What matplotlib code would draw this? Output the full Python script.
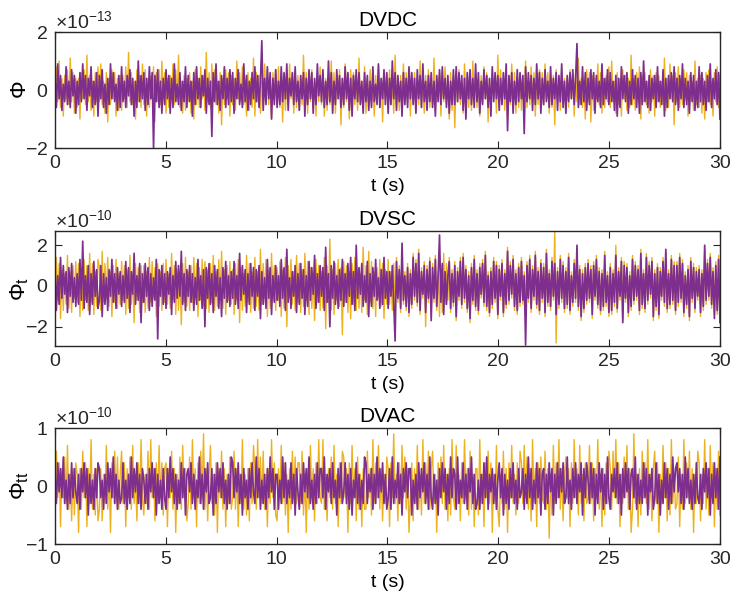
import matplotlib
matplotlib.use("Agg")
import matplotlib.pyplot as plt
import numpy as np
from matplotlib.ticker import ScalarFormatter

plt.rcParams['font.family'] = ['Liberation Sans', 'DejaVu Sans']
plt.rcParams['mathtext.fontset'] = 'custom'
plt.rcParams['mathtext.rm'] = 'Liberation Sans'
plt.rcParams['mathtext.it'] = 'Liberation Sans'
plt.rcParams['axes.unicode_minus'] = False

# sampled responses, 16 samples per second over 30 s
n_samples = 480
t_end = 30

# displacement (units of 1e-14)
dvdc_ref = """
-5 8 -4 10 -6 4 -9 5 -3 7 -5 11 -4 6 -8 4
-6 4 -10 6 -3 7 -5 12 -4 5 -7 3 -9 6 -4 8
-4 9 -5 3 -8 6 -11 4 -5 7 -3 6 -9 4 -7 5
-7 5 -3 8 -6 13 -4 6 -5 3 -10 7 -4 5 -6 9
-5 7 -9 4 -6 5 -3 8 -11 6 -4 7 -5 10 -3 6
-8 4 -6 5 -3 9 -5 7 -4 12 -6 3 -8 5 -7 4
-4 6 -8 3 -10 7 -5 4 -6 8 -3 5 -7 13 -4 6
-6 9 -4 7 -5 3 -8 6 -12 4 -5 7 -3 6 -9 5
-5 4 -7 10 -3 6 -4 8 -5 3 -9 6 -7 4 -6 11
-9 6 -4 5 -8 3 -6 9 -4 7 -5 4 -10 6 -3 7
-4 8 -6 3 -11 5 -7 4 -5 9 -3 6 -8 4 -6 5
-7 4 -5 12 -3 6 -8 5 -4 7 -6 3 -9 5 -4 8
-5 6 -9 4 -7 3 -5 10 -4 6 -8 5 -3 7 -12 4
-6 9 -4 5 -10 7 -3 6 -5 4 -7 11 -5 3 -6 8
-8 4 -6 7 -5 3 -9 5 -4 8 -6 4 -11 6 -3 5
-4 7 -5 3 -8 12 -6 4 -7 5 -3 9 -5 6 -4 7
-9 5 -3 6 -7 4 -5 10 -6 3 -8 5 -4 7 -6 4
-5 11 -7 4 -3 6 -9 5 -4 8 -5 3 -10 6 -7 5
-13 6 -4 7 -5 3 -8 9 -3 5 -6 4 -7 10 -4 6
-6 4 -9 5 -4 8 -3 6 -11 4 -5 7 -3 5 -8 12
-4 7 -5 3 -7 6 -10 4 -5 9 -3 6 -8 4 -6 5
-7 5 -4 10 -6 3 -5 8 -4 6 -9 4 -5 7 -3 6
-5 9 -3 6 -8 4 -6 5 -12 7 -4 3 -7 6 -5 4
-8 4 -6 7 -3 5 -9 6 -4 11 -5 4 -6 3 -10 7
-4 6 -11 5 -7 4 -3 9 -5 6 -8 4 -6 5 -4 8
-6 10 -4 3 -8 6 -5 4 -9 7 -3 5 -7 4 -6 12
-5 4 -7 6 -3 8 -10 5 -4 6 -5 3 -8 7 -4 5
-9 6 -4 5 -6 3 -5 11 -7 4 -6 9 -3 5 -12 6
-4 8 -6 4 -5 7 -3 6 -9 5 -4 3 -7 10 -5 4
-6 5 -8 4 -10 6 -4 7 -5 3 -9 6 -4 8 -6 5
"""
dvdc = """
4 -6 9 -3 5 -7 2 -4 8 -5 3 -6 7 -2 5 -8
3 -5 6 -4 9 -3 5 -7 4 -2 8 -6 3 -5 6 -9
5 -3 7 -6 2 -8 4 -5 9 -3 6 -4 2 -7 5 -6
8 -4 3 -6 5 -2 7 -5 4 -9 3 -6 10 -4 5 -3
6 -7 4 -5 8 -3 6 -20 5 -4 7 -6 3 -8 4 -5
7 -3 5 -8 4 -6 9 -4 2 -5 6 -7 3 -4 8 -6
5 -4 3 -9 6 -5 8 -3 4 -6 5 -2 7 -8 4 -5
3 -16 6 -4 9 -5 3 -7 5 -3 8 -6 4 -5 7 -4
6 -8 4 -3 7 -5 2 -6 9 -4 5 -7 3 -5 6 -3
8 -4 5 -6 3 17 -7 4 -5 8 -3 6 -10 4 -5 7
-6 3 -5 8 -4 6 -3 9 -7 4 -2 6 -5 8 -4 3
-7 5 -3 6 -9 4 -5 7 -3 6 -8 4 -5 9 -2 5
-4 7 -6 3 -5 10 -4 6 -8 3 -5 7 -3 5 -6 4
-5 8 -3 6 -7 4 -9 5 -3 7 -4 6 -5 3 -8 6
-4 5 -7 3 -6 8 -4 2 -5 9 -6 4 -3 7 -5 6
-8 4 -5 10 -3 6 -7 5 -4 3 -9 6 -5 4 -6 8
-3 6 -5 4 -8 7 -3 5 -6 9 -4 3 -7 5 -4 6
-6 3 -9 5 -4 7 -5 8 -3 4 -6 5 -8 3 -5 7
-5 8 -4 6 -3 5 -7 4 -10 6 -3 7 -5 4 -6 9
-4 6 -8 3 -5 7 -3 5 -6 4 -9 8 -4 6 -3 5
-7 4 -5 6 -3 9 -14 5 -4 6 -8 3 -5 7 -4 6
-3 5 -15 8 -4 6 -3 5 -7 4 -5 9 -3 6 -8 4
-5 7 -4 3 -6 8 -5 4 -3 6 -7 5 -4 9 -6 3
-8 5 -4 6 -3 7 -5 4 16 -6 3 -5 8 -4 6 -7
4 -5 7 -3 6 -8 5 -4 3 -6 9 -5 4 -3 7 -5
6 -4 3 -7 5 -9 4 -6 8 -3 5 -4 6 -8 3 -5
7 -3 5 -6 4 -8 6 -5 10 -4 3 -6 5 -7 4 -3
5 -6 8 -4 3 -5 7 -9 4 -6 5 -3 6 -4 8 -5
4 -7 5 -3 9 -6 4 -5 3 -8 6 -4 5 -7 3 -6
8 -4 6 -5 3 -7 5 -4 9 -6 4 -3 7 -5 6 -10
"""

# velocity (units of 1e-11)
dvsc_ref = """
-10 14 -7 11 -16 8 -12 6 -9 15 -11 7 -13 10 -6 12
-8 11 -15 9 -12 13 -7 10 -12 16 -8 11 -14 7 -10 13
9 -12 17 -8 11 -6 14 -10 7 -15 10 -8 13 -11 6 -9
12 -7 10 -14 8 -11 15 -9 6 -18 11 -7 9 -13 10 -8
10 -13 7 -11 14 -8 12 -6 9 -15 11 -10 7 -12 11 -8
13 -9 6 -11 16 -7 10 -14 8 -12 7 -19 11 -8 14 -10
7 -12 10 -8 14 -6 11 -15 9 -7 13 -10 12 -11 8 -13
11 -8 15 -12 7 -10 13 -6 17 -11 8 -14 10 -7 12 -9
8 -14 11 -7 13 -18 9 -12 6 -10 15 -8 11 -13 7 -11
14 -10 7 -12 18 -9 11 -6 13 -15 8 -11 16 -7 10 -12
9 -7 12 -15 8 -11 14 -20 10 -6 13 -9 7 -12 15 -8
11 -13 8 -10 16 -7 12 -14 9 -11 6 -17 13 -8 10 -12
7 -11 14 -21 10 -8 23 -12 8 -14 11 -7 13 -10 9 -24
12 -8 10 -13 7 -16 11 -9 14 -12 8 -11 6 -13 19 -7
10 -14 17 -8 12 -11 7 -15 9 -6 13 -10 11 -16 8 -9
13 -9 7 -12 11 -14 14 -8 10 -13 12 -9 7 -12 11 -15
8 -11 16 -7 13 -10 18 -14 9 -6 12 -20 10 -8 14 -13
11 -8 15 -12 7 -15 10 -13 16 -9 11 -7 14 -13 8 -10
12 -17 9 -7 14 -11 16 -8 10 -13 7 -18 11 -9 15 -12
8 -14 11 -6 13 -10 17 -12 7 -15 9 -11 14 -8 12 -16
10 -7 13 -15 8 -11 19 -9 12 -6 15 -12 8 -14 11 -10
14 -9 7 -12 12 -8 15 -13 10 -7 17 -11 9 -14 13 -8
11 -15 18 -10 8 -12 14 -7 27 -28 9 -11 15 -8 12 -13
9 -11 16 -14 7 -10 13 -8 18 -12 10 -17 8 -13 11 -9
13 -8 10 -16 12 -7 15 -11 9 -14 8 -12 17 -10 7 -15
11 -14 8 -10 20 -13 9 -7 14 -16 12 -8 11 -15 7 -12
15 -9 12 -7 10 -14 18 -11 8 -13 16 -9 12 -6 14 -17
8 -12 11 -16 9 -7 14 -10 16 -13 8 -11 15 -9 12 -14
12 -10 16 -8 13 -15 7 -11 10 -17 14 -8 11 -13 9 -7
10 -15 8 -12 18 -9 13 -7 16 -11 9 -14 12 -14 15 -17
"""
dvsc = """
8 -12 5 -9 14 -6 10 -4 7 -13 9 -5 11 -8 4 -10
6 -9 13 -7 22 -11 5 -8 10 -14 6 -9 12 -5 8 -11
-7 10 -15 6 -9 4 -12 8 -5 13 -8 6 -11 9 -4 7
-10 5 -8 12 -6 9 -13 7 -4 16 -9 5 -7 11 -18 6
-8 11 -5 9 -12 6 -10 4 -7 13 -26 8 -5 10 -9 6
-11 7 -4 9 -14 5 -8 12 -6 10 -5 17 -9 6 -12 8
-5 10 -8 6 -12 4 -9 13 -7 5 -11 8 -20 9 -6 11
-9 6 -13 10 -5 8 -11 4 -15 9 -6 12 -8 5 -10 7
-6 12 -9 5 -11 16 -7 10 -4 8 -13 6 -9 11 -5 9
-12 8 -5 10 -16 7 -9 4 -11 13 -6 9 -14 5 -8 10
-7 5 -10 13 -6 9 -12 18 -8 4 -11 7 -5 10 -13 6
-9 11 -6 8 -14 5 -10 12 -7 9 -4 15 -11 6 -8 10
-5 9 -12 19 -8 6 -20 10 -6 12 -9 5 -11 8 -7 13
-10 6 -8 11 -5 14 -9 7 -12 20 -6 9 -4 11 -10 5
-8 12 -15 6 -10 9 -5 13 -7 4 -11 8 -9 14 -6 7
-11 7 -5 10 -9 -27 12 -6 8 -11 21 -7 5 -10 9 -13
6 -9 14 -5 11 -8 16 -12 7 -4 10 -13 8 -6 12 -17
9 -6 13 -10 5 25 -8 11 -14 7 -9 5 12 -11 6 -8
10 -15 7 -5 12 -9 14 -6 8 -11 5 -16 9 -7 13 -10
6 -12 9 -4 11 -8 15 -10 5 -13 7 -9 12 -6 10 -14
8 -5 11 -13 6 -9 17 -7 10 -4 13 -10 6 -12 9 -8
12 -7 5 -29 10 -6 13 -11 8 -5 15 -9 7 -12 11 -6
9 -13 16 -8 6 -10 12 -5 11 -14 7 -9 13 -6 10 -11
7 -9 14 -12 5 -8 11 -6 20 -10 8 -15 6 -11 9 -7
11 -6 8 -14 10 -5 13 -9 7 -12 6 -10 15 -8 5 -13
9 -12 6 -8 15 -11 7 -5 12 -18 10 -6 9 -13 5 -10
13 -7 10 -5 8 -12 16 -9 6 -11 14 -7 10 -4 12 -15
6 -10 9 -14 7 -5 12 -8 18 -11 6 -9 13 -7 10 -12
10 -8 14 -6 11 -13 5 -9 8 -15 12 -6 9 -11 7 -5
8 -13 6 -10 20 -7 11 -5 14 -9 7 -16 10 -12 13 -18
"""

# acceleration (units of 1e-11)
dvac_ref = """
-3 6 -2 4 -7 3 -2 5 -3 7 -4 2 -6 3 -5 4
2 -8 3 -4 6 -2 4 -7 3 -3 8 -4 2 -5 3 -6
-4 3 -6 2 -3 7 -4 3 -8 4 -2 6 -3 5 -4 2
6 -3 4 -7 3 -2 5 -4 7 -3 2 -6 4 -3 8 -2
-5 2 -3 6 -4 8 -2 3 -6 4 -3 7 -2 4 -5 3
4 -7 3 -2 6 -4 3 -8 2 -3 5 -4 7 -2 3 -6
-3 5 -4 8 -2 3 -7 4 -3 6 -2 9 -4 3 -6 2
7 -3 2 -5 4 -8 3 -2 6 -4 3 -7 2 -3 5 -4
-2 6 -4 3 -7 2 -3 8 -4 2 -5 3 -6 4 -3 7
3 -4 8 -2 5 -3 6 -4 2 -7 3 -3 8 -2 4 -5
-6 3 -2 7 -3 4 -5 2 -8 3 -4 6 -2 5 -3 4
4 -3 6 -5 2 -8 3 -4 7 -2 3 -6 4 -3 8 -2
-3 8 -4 2 -6 3 -2 5 -4 7 -3 2 -7 4 -3 6
5 -2 3 -8 4 -3 7 -2 3 -6 5 -4 2 -7 3 -4
-4 6 -2 3 -5 8 -3 4 -2 7 -4 3 -6 2 -3 5
3 -7 4 -2 9 -3 2 -6 4 -3 7 -2 5 -4 3 -8
-2 4 -6 3 -3 7 -4 2 -5 8 -3 4 -2 6 -4 3
6 -3 2 -8 4 -2 5 -3 7 -4 2 -6 3 -5 8 -2
-4 7 -3 2 -6 4 -3 8 -2 3 -5 6 -4 2 -7 3
3 -5 8 -3 2 -7 4 -2 6 -3 4 -8 2 -3 7 -4
-7 2 -3 6 -4 3 -8 4 -2 7 -3 2 -5 4 -3 6
4 -3 7 -2 5 -4 3 -6 8 -2 3 -7 4 -3 5 -2
-3 6 -4 3 -9 2 -5 7 -3 4 -2 8 -4 3 -6 2
5 -2 3 -7 4 -3 8 -2 3 -5 7 -3 2 -6 4 -3
-2 7 -3 4 -6 3 -2 8 -4 2 -7 3 -5 4 -3 6
3 -4 6 -2 8 -3 4 -7 2 -3 5 -2 7 -4 3 -8
-4 9 -3 2 -7 3 -5 6 -2 4 -3 8 -4 2 -6 3
6 -3 4 -8 2 -3 7 -2 4 -6 3 -5 8 -3 2 -4
-3 5 -7 2 -4 8 -3 4 -2 6 -4 3 -8 2 -3 6
4 -6 2 -3 8 -4 3 -5 7 -2 4 -7 3 -4 6 -5
"""
dvac = """
2 -3 4 -1 3 -2 5 -3 1 -4 2 -3 4 -2 3 -1
-3 2 -4 3 -1 4 -2 3 -5 2 -3 1 -4 3 -2 4
3 -2 1 -4 2 -3 4 -1 3 -2 5 -3 2 -4 1 -3
-2 4 -3 1 -4 2 -3 5 -2 3 -1 4 -3 2 -4 3
1 -3 2 -4 3 -1 4 -2 3 -5 2 -3 1 -4 3 -2
-4 3 -2 5 -1 3 -3 2 -4 1 -3 4 -2 3 -5 2
3 -1 4 -3 2 -4 1 -2 5 -3 2 -4 3 -1 4 -3
-2 3 -5 2 -3 4 -1 3 -2 4 -3 1 -4 2 -3 5
4 -2 3 -1 4 -3 2 -5 3 -2 1 -4 3 -2 4 -1
-3 5 -2 3 -4 1 -3 2 -4 3 -2 5 -1 3 -4 2
2 -4 1 -3 5 -2 4 -3 1 -2 4 -3 2 -5 3 -1
-4 2 -3 4 -1 3 -2 5 -3 1 -4 2 -3 4 -2 3
3 -2 5 -4 2 -1 3 -3 4 -2 1 -5 3 -2 4 -3
-1 4 -3 2 -4 3 -5 1 -2 4 -3 2 -4 1 -3 5
4 -3 2 -1 3 -4 2 -3 5 -2 3 -1 4 -3 2 -4
-2 3 -4 5 -3 1 -2 4 -3 2 -5 3 -1 4 -2 3
3 -5 1 -3 2 -4 4 -2 3 -1 4 -3 2 -4 5 -2
-4 2 -3 1 -5 3 -2 4 -1 3 -4 2 -3 5 -2 3
2 -4 5 -3 1 -2 4 -3 2 -4 3 -1 5 -3 2 -4
-3 1 -4 2 -3 4 -2 5 -4 2 -1 3 -3 2 -4 1
4 -2 3 -5 2 -3 1 -4 3 -2 4 -3 1 -4 3 -2
-1 3 -4 2 -3 5 -2 3 -4 1 -3 4 -2 3 -5 2
3 -4 2 -3 4 -1 3 -5 2 -3 4 -2 3 -1 4 -3
-2 5 -3 1 -4 3 -2 4 -3 2 -1 4 -5 3 -2 4
1 -3 4 -2 3 -5 2 -3 4 -1 3 -4 2 -3 5 -2
-4 2 -1 3 -2 4 -3 2 -5 3 -2 4 -1 3 -4 2
3 -2 5 -4 2 -3 1 -3 4 -2 3 -5 2 -1 3 -4
-2 4 -3 2 -5 1 -3 4 -2 3 -4 2 -3 5 -1 3
4 -1 3 -3 2 -4 5 -2 3 -3 1 -4 2 -3 4 -2
-3 2 -4 3 -1 4 -2 3 -5 2 -3 4 -2 3 -4 5
"""

panels = [
    ("DVDC", r"$\Phi$", dvdc_ref, dvdc, 1e-14, (-2e-13, 2e-13), [-2e-13, 0, 2e-13]),
    ("DVSC", r"$\Phi_t$", dvsc_ref, dvsc, 1e-11, (-2.95e-10, 2.7e-10), [-2e-10, 0, 2e-10]),
    ("DVAC", r"$\Phi_{tt}$", dvac_ref, dvac, 1e-11, (-1e-10, 1e-10), [-1e-10, 0, 1e-10]),
]

t = np.linspace(0, t_end, n_samples)
orange = '#EDB120'
purple = '#7E2F8E'
axis_col = '#262626'

fig = plt.figure(figsize=(7.31, 6.0), dpi=100)
bottoms = [0.7533, 0.4233, 0.0933]
heights = [0.1933, 0.1917, 0.1933]

for (title, ylab, s_ref, s_sig, unit, ylim, yticks), b, h in zip(panels, bottoms, heights):
    ax = fig.add_axes([0.0752, b, 0.9097, h])
    y_ref = np.array(s_ref.split(), dtype=float) * unit
    y_sig = np.array(s_sig.split(), dtype=float) * unit
    ax.plot(t, y_ref, color=orange, lw=1.0)
    ax.plot(t, y_sig, color=purple, lw=1.25)
    ax.set_xlim(0, t_end)
    ax.set_ylim(*ylim)
    ax.set_xticks(np.arange(0, 31, 5))
    ax.set_yticks(yticks)
    ax.yaxis.set_major_formatter(ScalarFormatter(useMathText=True))
    ax.yaxis.get_offset_text().set_fontsize(14)
    ax.tick_params(direction='in', top=True, right=True, length=5, width=0.8,
                   labelsize=14, colors=axis_col, pad=5)
    for sp in ax.spines.values():
        sp.set_color(axis_col)
        sp.set_linewidth(1.0)
    ax.set_title(title, fontsize=15, pad=4)
    ax.set_xlabel('t (s)', fontsize=14, labelpad=4)
    ax.set_ylabel(ylab, fontsize=16)
    ax.yaxis.set_label_coords(-0.036, 0.5)

fig.savefig('out.png', dpi=100)
